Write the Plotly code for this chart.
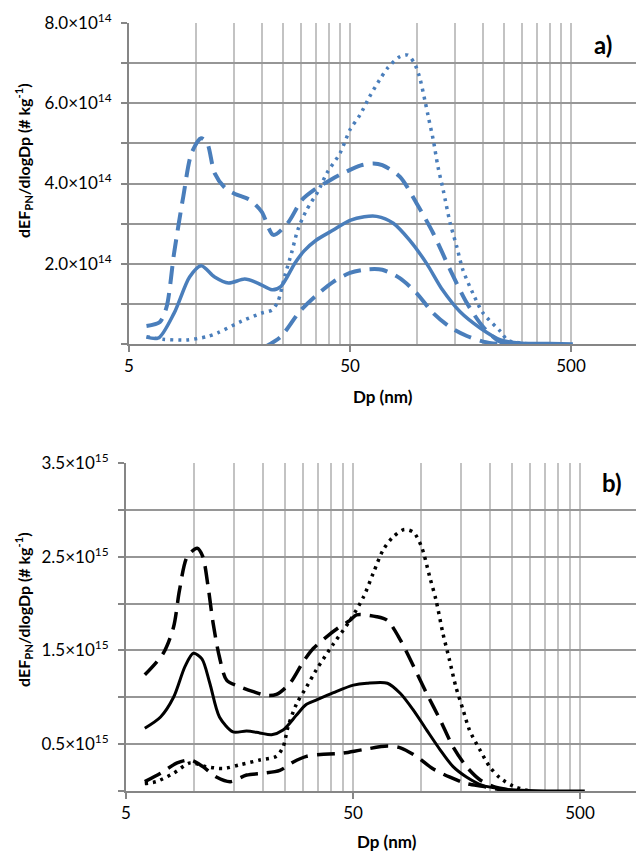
import math
import plotly.graph_objects as go

# ---------------- data (panel a, y in units of 1e14) ----------------
a_solid_dp = [6.0, 6.8, 8.0, 9.4, 10.6, 12.2, 14.1, 16.7, 19.1, 22.2, 24.3, 28.2, 31, 35, 42, 50, 58, 66,
              78.5, 93, 111, 131, 157, 194, 240, 300, 400, 510]
a_solid_y = [0.17, 0.15, 0.77, 1.67, 1.95, 1.67, 1.52, 1.62, 1.52, 1.35, 1.43, 2.02, 2.32, 2.58, 2.84, 3.08,
             3.17, 3.18, 3.01, 2.59, 2.01, 1.35, 0.81, 0.40, 0.10, 0.02, 0.01, 0.0]

a_dash_hi_dp = [6.0, 6.9, 7.4, 8.0, 8.8, 9.6, 10.6, 11.3, 12.2, 13.6, 15.1, 17.6, 19.9, 22.5, 26.1, 30.3,
                34.4, 40.8, 48.3, 56, 63.7, 70, 84, 100, 119, 142, 169, 200, 240, 300]
a_dash_hi_y = [0.45, 0.55, 0.93, 2.27, 3.67, 4.76, 5.13, 5.0, 4.26, 3.89, 3.74, 3.59, 3.3, 2.72, 3.01, 3.59,
               3.84, 4.09, 4.3, 4.45, 4.5, 4.46, 4.17, 3.51, 2.76, 1.85, 1.02, 0.43, 0.05, 0.0]

a_dash_lo_dp = [20.5, 24.3, 29.5, 35, 42, 50, 60, 70, 84, 100, 119, 142, 169, 200, 240, 300]
a_dash_lo_y = [-0.08, 0.18, 0.8, 1.2, 1.55, 1.77, 1.86, 1.85, 1.64, 1.27, 0.77, 0.42, 0.2, 0.06, 0.0, 0.0]

a_dot_dp = [6.0, 7.1, 9.1, 11.2, 12.6, 16.2, 19.9, 22.2, 23.6, 25.3, 27.2, 29, 31.8, 35.8, 39.3, 45.1, 50,
            55.5, 61.4, 68, 74.1, 84, 91.3, 97.7, 103, 109, 113, 119, 125, 132, 142, 152, 162, 180, 200,
            240, 258, 300, 350]
a_dot_y = [0.18, 0.12, 0.10, 0.18, 0.28, 0.57, 0.77, 0.85, 1.06, 1.68, 2.27, 2.84, 3.34, 3.8, 4.26, 4.76,
           5.34, 5.71, 6.17, 6.58, 6.88, 7.16, 7.2, 7.0, 6.67, 6.08, 5.67, 5.09, 4.42, 3.84, 3.01, 2.43,
           1.85, 1.26, 0.77, 0.31, 0.1, 0.02, 0.0]

# ---------------- data (panel b, y in units of 1e15) ----------------
b_solid_dp = [6.05, 7.1, 8.1, 9.1, 9.9, 10.8, 11.7, 12.9, 14.8, 17, 19.4, 21.9, 24.6, 28.2, 31, 34.4, 41,
              50.2, 57.6, 70.9, 80.9, 92.4, 105.6, 121, 138, 158, 186, 214, 260, 350, 525]
b_solid_y = [0.67, 0.79, 1.0, 1.33, 1.47, 1.41, 1.15, 0.79, 0.63, 0.64, 0.62, 0.60, 0.65, 0.81, 0.92, 0.97,
             1.05, 1.13, 1.15, 1.15, 1.04, 0.86, 0.65, 0.44, 0.26, 0.15, 0.06, 0.03, 0.01, 0.0, 0.0]

b_dash_hi_dp = [6.05, 7.3, 8.1, 8.6, 9.3, 10.3, 10.9, 11.5, 12.1, 12.9, 13.9, 16, 18.2, 20.8, 23, 26.4,
                30.2, 33.4, 38, 43, 48.5, 51.8, 63.6, 70.9, 80.9, 92.4, 105.6, 121, 138, 158, 181, 207, 260]
b_dash_hi_y = [1.24, 1.47, 1.75, 2.14, 2.50, 2.59, 2.50, 2.18, 1.79, 1.43, 1.18, 1.11, 1.06, 1.02, 1.03,
               1.15, 1.38, 1.52, 1.64, 1.74, 1.82, 1.88, 1.86, 1.82, 1.61, 1.33, 1.04, 0.76, 0.47, 0.26,
               0.12, 0.05, 0.0]

b_dash_lo_dp = [6.05, 7.1, 8.4, 9.6, 10.9, 12.5, 14.4, 17, 20.2, 23.8, 27.3, 31.2, 35.9, 43.8, 55, 70.9,
                80.9, 95, 112, 133, 158, 186, 230, 300]
b_dash_lo_y = [0.10, 0.19, 0.30, 0.33, 0.26, 0.15, 0.10, 0.17, 0.19, 0.22, 0.31, 0.37, 0.39, 0.40, 0.44,
               0.48, 0.46, 0.37, 0.24, 0.15, 0.08, 0.05, 0.01, 0.0]

b_dot_dp = [6.05, 6.8, 8.1, 9.6, 11.3, 13.4, 15.9, 19.4, 23, 24.6, 25.9, 28.2, 31.2, 34.4, 41, 48.5, 55.6,
            61.3, 67.8, 75, 84, 92.4, 100.4, 109, 116, 124.5, 133, 142, 153, 163, 181, 200, 222, 255, 300]
b_dot_y = [0.08, 0.10, 0.19, 0.30, 0.26, 0.24, 0.28, 0.33, 0.37, 0.47, 0.69, 0.93, 1.11, 1.29, 1.57, 1.82,
           2.07, 2.32, 2.57, 2.71, 2.79, 2.76, 2.60, 2.28, 2.04, 1.68, 1.40, 1.11, 0.86, 0.65, 0.44, 0.26,
           0.14, 0.05, 0.0]

SCALE_A = 1e14
SCALE_B = 1e15

x_major = [5, 50, 500]
x_major_text = ["5", "50", "500"]
x_minor = [10, 15, 20, 25, 30, 35, 40, 45, 100, 150, 200, 250, 300, 350, 400, 450, 1000]

a_ytick_vals = [0, 1, 2, 3, 4, 5, 6, 7, 8]
a_ytick_text = ["", "", "2.0×10<sup>14</sup>", "", "4.0×10<sup>14</sup>", "",
                "6.0×10<sup>14</sup>", "", "8.0×10<sup>14</sup>"]
b_ytick_vals = [0, 0.5, 1.0, 1.5, 2.0, 2.5, 3.0, 3.5]
b_ytick_text = ["", "0.5×10<sup>15</sup>", "", "1.5×10<sup>15</sup>", "",
                "2.5×10<sup>15</sup>", "", "3.5×10<sup>15</sup>"]

# ---------------- figure ----------------
W, H = 636, 854
BLUE = "#4A7EBB"
BLACK = "#000000"
FONT = "Lato"
DASH = "18px,9px"
DOT = "3px,5px"

fig = go.Figure()


def add(xs, ys, scale, color, width, dash, xa, ya):
    fig.add_trace(go.Scatter(
        x=xs, y=[v * scale for v in ys], mode="lines",
        line=dict(color=color, width=width, dash=dash, shape="spline", smoothing=0.8),
        xaxis=xa, yaxis=ya, showlegend=False, hoverinfo="skip"))


add(a_solid_dp, a_solid_y, SCALE_A, BLUE, 3.5, "solid", "x", "y")
add(a_dash_hi_dp, a_dash_hi_y, SCALE_A, BLUE, 4, DASH, "x", "y")
add(a_dash_lo_dp, a_dash_lo_y, SCALE_A, BLUE, 4, DASH, "x", "y")
add(a_dot_dp, a_dot_y, SCALE_A, BLUE, 3.5, DOT, "x", "y")

add(b_solid_dp, b_solid_y, SCALE_B, BLACK, 3, "solid", "x2", "y2")
add(b_dash_hi_dp, b_dash_hi_y, SCALE_B, BLACK, 3.5, DASH, "x2", "y2")
add(b_dash_lo_dp, b_dash_lo_y, SCALE_B, BLACK, 3.5, DASH, "x2", "y2")
add(b_dot_dp, b_dot_y, SCALE_B, BLACK, 3.5, DOT, "x2", "y2")

AX_COL = "#868686"
HGRID = "#969696"
VGRID = "#C3C3C3"
TICK_SIZE = 17


def xaxis_cfg(left_px, right_log, anchor):
    return dict(
        type="log", domain=[left_px / W, 1.0], range=[math.log10(5), right_log], anchor=anchor,
        tickmode="array", tickvals=x_major, ticktext=x_major_text,
        ticks="outside", ticklen=6, tickwidth=1.5, tickcolor=AX_COL,
        showgrid=True, gridcolor=VGRID, gridwidth=1.5,
        minor=dict(tickmode="array", tickvals=x_minor, showgrid=True, gridcolor=VGRID,
                   gridwidth=1.5, ticks=""),
        showline=True, linecolor=AX_COL, linewidth=2,
        tickfont=dict(family=FONT, size=TICK_SIZE, color="#000"),
        zeroline=False, automargin=False, fixedrange=True)


def yaxis_cfg(top_px, bot_px, rng, vals, text, anchor):
    return dict(
        domain=[1 - bot_px / H, 1 - top_px / H], range=rng, anchor=anchor,
        tickmode="array", tickvals=vals, ticktext=text,
        ticks="outside", ticklen=6, tickwidth=1.5, tickcolor=AX_COL,
        showgrid=True, gridcolor=HGRID, gridwidth=1.5,
        showline=True, linecolor=AX_COL, linewidth=2,
        tickfont=dict(family=FONT, size=TICK_SIZE, color="#000"),
        ticklabelstandoff=6,
        zeroline=False, automargin=False, fixedrange=True)


fig.update_layout(
    width=W, height=H, margin=dict(l=0, r=0, t=0, b=0),
    paper_bgcolor="white", plot_bgcolor="white",
    xaxis=xaxis_cfg(129, math.log10(5) + (636 - 129) / 221.0, "y"),
    yaxis=yaxis_cfg(23, 344, [0, 8 * SCALE_A], [v * SCALE_A for v in a_ytick_vals], a_ytick_text, "x"),
    xaxis2=xaxis_cfg(126, math.log10(5) + (636 - 126) / 227.0, "y2"),
    yaxis2=yaxis_cfg(463, 791, [0, 3.5 * SCALE_B], [v * SCALE_B for v in b_ytick_vals], b_ytick_text, "x2"),
)

ytitle = "dEF<sub>PN</sub>/dlogDp (# kg<sup>-1</sup>)"
ann = [
    dict(text="<b>" + ytitle + "</b>", x=23 / W, y=1 - 161 / H, textangle=-90, size=16),
    dict(text="<b>Dp (nm)</b>", x=383 / W, y=1 - 397 / H, size=17),
    dict(text="<b>a)</b>", x=603 / W, y=1 - 45 / H, size=24),
    dict(text="<b>" + ytitle + "</b>", x=23 / W, y=1 - 610 / H, textangle=-90, size=16),
    dict(text="<b>Dp (nm)</b>", x=387 / W, y=1 - 841 / H, size=17),
    dict(text="<b>b)</b>", x=612 / W, y=1 - 483 / H, size=24),
]
for a in ann:
    fig.add_annotation(
        text=a["text"], x=a["x"], y=a["y"], xref="paper", yref="paper",
        xanchor="center", yanchor="middle", showarrow=False,
        textangle=a.get("textangle", 0),
        font=dict(family=FONT, size=a["size"], color="#000"))

fig.write_html("out.html")
